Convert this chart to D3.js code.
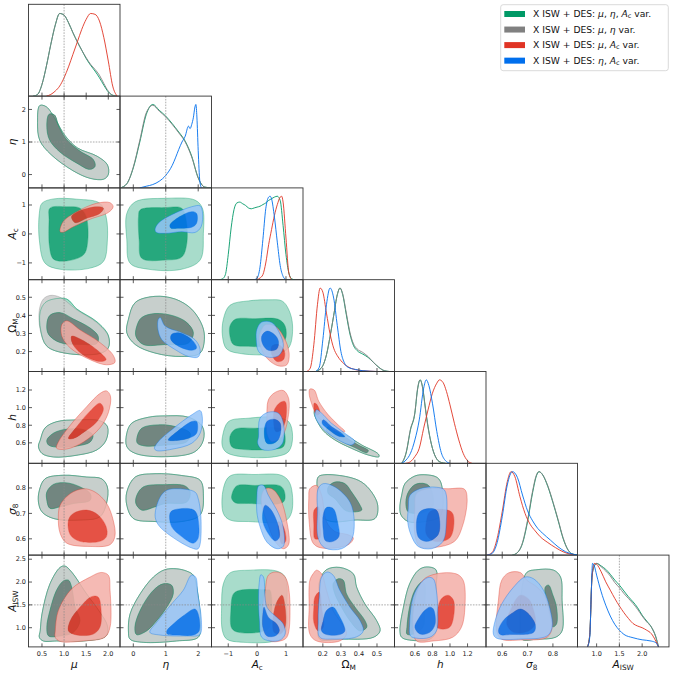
<!DOCTYPE html>
<html>
<head>
<meta charset="utf-8">
<script src="https://cdn.jsdelivr.net/npm/d3@7"></script>
<style>
  body { margin: 0; background: #fff; }
  svg { display: block; font-family: 'DejaVu Sans', sans-serif; }
</style>
</head>
<body>
<script>
// parameters, axis domains and ticks
const params = ['mu', 'eta', 'Ac', 'Om', 'h', 's8', 'A'];
const ranges = { mu: [0.195, 2.265], eta: [-0.41, 2.41], Ac: [-1.58, 1.59], Om: [0.09, 0.597], h: [0.368, 1.41], s8: [0.536, 0.897], A: [0.58, 2.59] };
const xticks = { mu: [0.5, 1, 1.5, 2], eta: [0, 1, 2], Ac: [-1, 0, 1], Om: [0.2, 0.3, 0.4, 0.5], h: [0.6, 0.8, 1.0, 1.2], s8: [0.6, 0.7, 0.8], A: [1, 1.5, 2] };
const yticks = { mu: [], eta: [0, 1, 2], Ac: [-1, 0, 1], Om: [0.2, 0.3, 0.4, 0.5], h: [0.6, 0.8, 1.0, 1.2], s8: [0.6, 0.7, 0.8], A: [1, 1.5, 2, 2.5] };
const tickDigits = { mu: 1, eta: 0, Ac: 0, Om: 1, h: 1, s8: 1, A: 1 };
// axis titles: [text, style] with style 0 roman, 1 italic, 2 subscript
const titles = {
  mu: [['μ', 1]], eta: [['η', 1]], Ac: [['A', 1], ['c', 2]], Om: [['Ω', 0], ['M', 2]],
  h: [['h', 1]], s8: [['σ', 1], ['8', 2]], A: [['A', 1], ['ISW', 2]]
};
const markers = { mu: 1, eta: 1, A: 1.5 };

const sets = ['green', 'gray', 'red', 'blue'];
const colors = { green: '#009966', gray: '#808080', red: '#E03424', blue: '#006FED' };
const legendLabels = [
  [['X ISW + DES: ', 0], ['μ', 1], [', ', 0], ['η', 1], [', ', 0], ['A', 1], ['c', 2], [' var.', 0]],
  [['X ISW + DES: ', 0], ['μ', 1], [', ', 0], ['η', 1], [' var.', 0]],
  [['X ISW + DES: ', 0], ['μ', 1], [', ', 0], ['A', 1], ['c', 2], [' var.', 0]],
  [['X ISW + DES: ', 0], ['η', 1], [', ', 0], ['A', 1], ['c', 2], [' var.', 0]]
];

// 1D marginals: [value, relative density]
const mu_1d = {
  green: [[0.3,0],[0.4,0.02],[0.5,0.14],[0.6,0.36],[0.7,0.62],[0.8,0.85],[0.9,0.99],[1.0,0.97],[1.1,0.88],[1.2,0.76],[1.3,0.65],[1.4,0.55],[1.5,0.45],[1.6,0.37],[1.7,0.3],[1.8,0.22],[1.9,0.13],[2.0,0.05],[2.1,0.01],[2.2,0]],
  gray: [[0.3,0],[0.4,0.02],[0.5,0.14],[0.6,0.36],[0.7,0.62],[0.8,0.85],[0.9,0.99],[1.0,0.97],[1.1,0.88],[1.2,0.76],[1.3,0.65],[1.4,0.55],[1.5,0.46],[1.6,0.38],[1.7,0.32],[1.8,0.25],[1.9,0.15],[2.0,0.06],[2.1,0.01],[2.2,0]],
  red: [[0.6,0],[0.7,0.02],[0.8,0.06],[0.9,0.12],[1.0,0.22],[1.1,0.35],[1.2,0.5],[1.3,0.65],[1.4,0.8],[1.5,0.92],[1.6,0.99],[1.7,0.98],[1.8,0.9],[1.9,0.7],[2.0,0.42],[2.1,0.12],[2.2,0]]
};
const eta_1d = {
  green: [[-0.4,0],[-0.2,0.05],[0,0.24],[0.2,0.55],[0.4,0.88],[0.6,1.0],[0.8,0.93],[1.0,0.86],[1.2,0.77],[1.4,0.67],[1.6,0.56],[1.8,0.38],[2.0,0.12],[2.2,0.01],[2.4,0]],
  gray: [[-0.4,0],[-0.2,0.05],[0,0.25],[0.2,0.57],[0.4,0.9],[0.6,0.99],[0.8,0.92],[1.0,0.85],[1.2,0.76],[1.4,0.66],[1.6,0.55],[1.8,0.37],[2.0,0.12],[2.2,0.01],[2.4,0]],
  blue: [[0.2,0],[0.4,0.02],[0.6,0.04],[0.8,0.08],[1.0,0.15],[1.2,0.27],[1.3,0.36],[1.4,0.46],[1.5,0.55],[1.6,0.62],[1.7,0.74],[1.75,0.71],[1.8,0.76],[1.85,0.84],[1.9,0.97],[1.93,1.0],[1.96,0.85],[2.0,0.45],[2.05,0.08],[2.1,0]]
};
const Ac_1d = {
  green: [[-1.3,0],[-1.2,0.01],[-1.1,0.06],[-1.0,0.3],[-0.9,0.62],[-0.8,0.84],[-0.7,0.92],[-0.6,0.93],[-0.5,0.91],[-0.4,0.89],[-0.3,0.86],[-0.2,0.85],[-0.1,0.86],[0.0,0.87],[0.1,0.88],[0.2,0.9],[0.3,0.92],[0.4,0.95],[0.5,0.97],[0.6,0.99],[0.7,1.0],[0.8,0.95],[0.9,0.65],[1.0,0.3],[1.1,0.08],[1.2,0.01],[1.3,0]],
  red: [[0.0,0],[0.1,0.02],[0.2,0.06],[0.3,0.2],[0.4,0.42],[0.5,0.6],[0.6,0.77],[0.7,0.9],[0.8,0.99],[0.85,1.0],[0.9,0.93],[1.0,0.5],[1.1,0.08],[1.2,0]],
  blue: [[-0.1,0],[0.0,0.02],[0.1,0.15],[0.2,0.48],[0.3,0.85],[0.4,0.99],[0.45,1.0],[0.5,0.97],[0.6,0.75],[0.7,0.45],[0.8,0.17],[0.9,0.04],[1.0,0]]
};
const Om_1d = {
  green: [[0.16,0],[0.18,0.02],[0.2,0.07],[0.22,0.2],[0.24,0.42],[0.26,0.67],[0.28,0.92],[0.295,1.0],[0.31,0.92],[0.33,0.68],[0.35,0.45],[0.37,0.31],[0.39,0.25],[0.42,0.21],[0.45,0.17],[0.48,0.11],[0.51,0.05],[0.54,0.01],[0.57,0]],
  gray: [[0.16,0],[0.18,0.02],[0.2,0.07],[0.22,0.2],[0.24,0.42],[0.26,0.67],[0.28,0.92],[0.295,1.0],[0.31,0.93],[0.33,0.7],[0.35,0.47],[0.37,0.33],[0.39,0.27],[0.42,0.23],[0.45,0.18],[0.48,0.11],[0.51,0.05],[0.54,0.01],[0.57,0]],
  red: [[0.11,0],[0.13,0.04],[0.15,0.32],[0.17,0.8],[0.185,1.0],[0.2,0.95],[0.22,0.7],[0.24,0.45],[0.26,0.28],[0.28,0.19],[0.3,0.13],[0.33,0.07],[0.36,0.035],[0.4,0.015],[0.45,0.005],[0.5,0]],
  blue: [[0.16,0],[0.18,0.05],[0.2,0.38],[0.22,0.8],[0.24,1.0],[0.26,0.88],[0.28,0.55],[0.3,0.24],[0.32,0.1],[0.34,0.05],[0.38,0.025],[0.42,0.01],[0.5,0]]
};
const h_1d = {
  green: [[0.45,0],[0.5,0.12],[0.55,0.4],[0.6,0.6],[0.63,0.88],[0.66,1.0],[0.69,0.9],[0.72,0.66],[0.75,0.44],[0.8,0.18],[0.85,0.05],[0.9,0.01],[0.95,0]],
  gray: [[0.45,0],[0.5,0.13],[0.55,0.41],[0.6,0.61],[0.63,0.89],[0.66,1.0],[0.69,0.89],[0.72,0.65],[0.75,0.43],[0.8,0.18],[0.85,0.05],[0.9,0.01],[0.95,0]],
  red: [[0.5,0],[0.55,0.02],[0.6,0.08],[0.65,0.18],[0.7,0.42],[0.75,0.64],[0.8,0.84],[0.85,0.96],[0.88,1.0],[0.92,0.97],[0.96,0.86],[1.0,0.7],[1.05,0.48],[1.1,0.28],[1.15,0.12],[1.2,0.03],[1.25,0]],
  blue: [[0.45,0],[0.5,0.04],[0.55,0.12],[0.6,0.28],[0.65,0.52],[0.7,0.9],[0.73,1.0],[0.76,0.93],[0.8,0.72],[0.85,0.38],[0.9,0.13],[0.95,0.03],[1.0,0]]
};
const s8_1d = {
  green: [[0.64,0],[0.66,0.03],[0.68,0.14],[0.7,0.4],[0.72,0.75],[0.735,0.95],[0.745,1.0],[0.76,0.96],[0.78,0.82],[0.8,0.63],[0.82,0.42],[0.84,0.2],[0.86,0.06],[0.88,0.01],[0.9,0]],
  gray: [[0.64,0],[0.66,0.03],[0.68,0.15],[0.7,0.42],[0.72,0.77],[0.735,0.96],[0.745,1.0],[0.76,0.96],[0.78,0.83],[0.8,0.64],[0.82,0.43],[0.84,0.21],[0.86,0.06],[0.88,0.01],[0.9,0]],
  red: [[0.54,0],[0.56,0.03],[0.58,0.2],[0.6,0.52],[0.62,0.88],[0.635,1.0],[0.65,0.94],[0.67,0.7],[0.69,0.5],[0.71,0.37],[0.73,0.29],[0.75,0.22],[0.78,0.15],[0.81,0.09],[0.84,0.04],[0.87,0.01],[0.89,0]],
  blue: [[0.54,0],[0.56,0.02],[0.58,0.15],[0.6,0.46],[0.62,0.84],[0.64,1.0],[0.66,0.93],[0.68,0.72],[0.7,0.53],[0.72,0.41],[0.74,0.32],[0.76,0.26],[0.79,0.18],[0.82,0.1],[0.85,0.04],[0.88,0.01],[0.9,0]]
};
const A_1d = {
  green: [[0.8,0],[0.85,0.15],[0.9,0.85],[0.95,0.97],[1.0,1.0],[1.1,0.97],[1.2,0.93],[1.3,0.87],[1.4,0.8],[1.5,0.74],[1.6,0.67],[1.7,0.6],[1.8,0.54],[1.9,0.47],[2.0,0.38],[2.1,0.31],[2.2,0.24],[2.3,0.12],[2.36,0]],
  gray: [[0.8,0],[0.85,0.15],[0.9,0.85],[0.95,0.97],[1.0,1.0],[1.1,0.96],[1.2,0.91],[1.3,0.85],[1.4,0.77],[1.5,0.71],[1.6,0.64],[1.7,0.58],[1.8,0.52],[1.9,0.45],[2.0,0.37],[2.1,0.3],[2.2,0.24],[2.3,0.12],[2.36,0]],
  red: [[0.8,0],[0.85,0.15],[0.9,0.85],[0.95,1.0],[1.0,0.99],[1.1,0.9],[1.2,0.78],[1.3,0.68],[1.4,0.58],[1.5,0.49],[1.6,0.41],[1.7,0.34],[1.8,0.28],[1.9,0.25],[2.0,0.23],[2.1,0.2],[2.2,0.16],[2.3,0.07],[2.36,0]],
  blue: [[0.8,0],[0.85,0.12],[0.88,0.6],[0.91,1.0],[0.95,0.97],[1.0,0.86],[1.1,0.66],[1.2,0.5],[1.3,0.37],[1.4,0.27],[1.5,0.2],[1.6,0.15],[1.8,0.11],[2.0,0.085],[2.2,0.07],[2.3,0.05],[2.36,0]]
};
const marginals = { mu: mu_1d, eta: eta_1d, Ac: Ac_1d, Om: Om_1d, h: h_1d, s8: s8_1d, A: A_1d };

// 2D contours: [95% contour, 68% contour], points are [column value, row value]
const eta_mu = {
  gray: [[[0.45,2.12],[0.6,2.08],[0.8,1.7],[1.02,1.2],[1.3,0.82],[1.75,0.56],[1.98,0.3],[2.0,0.0],[1.9,-0.14],[1.6,-0.12],[1.2,0.12],[0.7,0.62],[0.45,1.05],[0.4,1.6]],
         [[0.66,1.85],[0.78,1.83],[0.88,1.48],[1.06,1.07],[1.36,0.72],[1.66,0.46],[1.7,0.25],[1.58,0.16],[1.29,0.35],[0.9,0.7],[0.67,1.07],[0.61,1.5]]]
};
const Ac_mu = {
  green: [[[0.5,1.06],[0.76,1.21],[1.29,1.2],[1.81,1.06],[1.95,0.6],[1.98,-0.21],[1.89,-0.95],[1.59,-1.18],[0.91,-1.22],[0.57,-1.01],[0.44,-0.21],[0.44,0.71]],
          [[0.68,0.89],[1.06,0.94],[1.36,0.89],[1.5,0.6],[1.53,-0.32],[1.44,-0.72],[1.06,-0.93],[0.76,-0.87],[0.67,-0.44],[0.66,0.48]]],
  red: [[[0.91,0.08],[0.98,0.43],[1.29,0.77],[1.74,1.06],[2.04,1.08],[2.11,0.94],[2.0,0.74],[1.59,0.51],[1.21,0.25],[0.98,0.06]],
        [[1.17,0.6],[1.36,0.8],[1.74,0.94],[1.89,0.89],[1.81,0.71],[1.51,0.54],[1.25,0.39]]]
};
const Ac_eta = {
  green: [[[-0.2,0.71],[0.06,1.11],[0.98,1.23],[1.9,1.17],[2.13,0.89],[2.16,0.02],[2.06,-0.9],[1.49,-1.22],[0.47,-1.22],[-0.1,-1.01],[-0.2,-0.21]],
          [[0.21,0.83],[0.98,0.91],[1.49,0.89],[1.62,0.54],[1.65,-0.32],[1.49,-0.8],[0.98,-0.9],[0.26,-0.84],[0.18,-0.21],[0.16,0.6]]],
  blue: [[[0.67,0.14],[0.77,0.37],[1.18,0.66],[1.8,0.94],[2.06,0.97],[2.13,0.77],[2.09,0.25],[1.9,0.05],[1.49,0.08],[0.98,0.02],[0.72,0.05]],
         [[1.13,0.31],[1.39,0.57],[1.8,0.77],[1.95,0.71],[1.95,0.37],[1.8,0.23],[1.39,0.2],[1.16,0.2]]]
};
const Om_mu = {
  green: [[[0.57,0.47],[0.76,0.49],[1.06,0.49],[1.29,0.435],[1.74,0.365],[2.0,0.29],[2.0,0.22],[1.81,0.19],[1.06,0.19],[0.61,0.23],[0.47,0.32],[0.46,0.42]],
          [[0.68,0.4],[0.91,0.415],[1.21,0.38],[1.59,0.33],[1.77,0.285],[1.74,0.245],[1.36,0.24],[0.91,0.25],[0.65,0.295],[0.61,0.35]]],
  gray: [[[0.53,0.49],[0.68,0.51],[0.91,0.5],[1.29,0.43],[1.74,0.36],[2.0,0.285],[2.0,0.22],[1.81,0.19],[1.06,0.19],[0.61,0.23],[0.46,0.32],[0.44,0.43]],
         [[0.68,0.4],[0.91,0.415],[1.21,0.38],[1.59,0.33],[1.77,0.285],[1.74,0.245],[1.36,0.24],[0.91,0.25],[0.65,0.295],[0.61,0.35]]],
  red: [[[0.95,0.35],[1.06,0.37],[1.36,0.32],[1.81,0.25],[2.11,0.18],[2.15,0.14],[1.96,0.127],[1.59,0.155],[1.14,0.22],[0.95,0.285]],
        [[1.17,0.285],[1.36,0.27],[1.74,0.21],[1.95,0.155],[1.81,0.145],[1.44,0.18],[1.2,0.24]]]
};
const Om_eta = {
  gray: [[[-0.15,0.378],[0.06,0.471],[0.67,0.505],[1.29,0.49],[1.8,0.434],[2.13,0.341],[2.19,0.266],[2.06,0.192],[1.49,0.173],[0.67,0.192],[0.06,0.239],[-0.2,0.304]],
         [[0.11,0.341],[0.26,0.388],[0.67,0.41],[1.24,0.397],[1.65,0.36],[1.85,0.304],[1.7,0.248],[0.98,0.239],[0.31,0.239],[0.08,0.285]]],
  blue: [[[0.77,0.378],[0.83,0.388],[0.98,0.341],[1.49,0.304],[1.9,0.266],[2.06,0.211],[2.0,0.17],[1.7,0.173],[1.29,0.211],[0.88,0.266],[0.76,0.322]],
         [[1.18,0.294],[1.39,0.304],[1.8,0.266],[1.95,0.22],[1.8,0.207],[1.39,0.23],[1.16,0.266]]]
};
const Om_Ac = {
  green: [[[-1.17,0.378],[-0.94,0.456],[-0.3,0.48],[0.39,0.486],[0.86,0.48],[1.09,0.434],[1.23,0.341],[1.09,0.22],[0.62,0.188],[-0.53,0.188],[-1.05,0.214],[-1.2,0.285]],
          [[-0.94,0.341],[-0.76,0.378],[-0.07,0.382],[0.74,0.378],[0.97,0.341],[0.97,0.266],[0.62,0.233],[-0.3,0.229],[-0.82,0.239],[-0.94,0.285]]],
  red: [[[0.16,0.322],[0.28,0.347],[0.62,0.341],[0.91,0.285],[1.11,0.192],[1.03,0.127],[0.74,0.121],[0.39,0.155],[0.16,0.211],[0.07,0.276]],
        [[0.51,0.229],[0.74,0.239],[0.95,0.201],[0.91,0.155],[0.69,0.145],[0.51,0.183]]],
  blue: [[[-0.01,0.322],[0.16,0.363],[0.51,0.36],[0.8,0.294],[0.91,0.229],[0.74,0.177],[0.34,0.17],[0.05,0.201],[-0.03,0.266]],
         [[0.16,0.285],[0.34,0.313],[0.6,0.294],[0.74,0.257],[0.68,0.214],[0.39,0.207],[0.2,0.239]]]
};
const h_mu = {
  gray: [[[0.46,0.63],[0.57,0.77],[0.83,0.84],[1.29,0.86],[1.81,0.85],[1.98,0.785],[1.95,0.63],[1.74,0.52],[1.29,0.46],[0.76,0.44],[0.5,0.48],[0.42,0.56]],
         [[0.61,0.63],[0.76,0.71],[1.06,0.755],[1.44,0.75],[1.65,0.69],[1.59,0.61],[1.29,0.565],[0.91,0.55],[0.65,0.575]]],
  red: [[[0.83,0.54],[0.87,0.61],[1.14,0.8],[1.51,1.01],[1.81,1.16],[1.96,1.19],[2.05,1.13],[2.0,0.94],[1.81,0.77],[1.44,0.61],[1.06,0.53]],
        [[1.1,0.65],[1.29,0.785],[1.55,0.94],[1.81,1.05],[1.89,0.99],[1.74,0.84],[1.47,0.73],[1.21,0.65]]]
};
const h_eta = {
  gray: [[[-0.2,0.709],[-0.05,0.823],[0.47,0.891],[0.98,0.906],[1.7,0.891],[2.13,0.785],[2.16,0.633],[1.9,0.5],[0.98,0.443],[0.06,0.481],[-0.2,0.557]],
         [[0.11,0.652],[0.26,0.766],[0.77,0.804],[1.29,0.785],[1.75,0.709],[1.65,0.614],[0.98,0.576],[0.36,0.565],[0.13,0.595]]],
  blue: [[[0.65,0.538],[0.77,0.614],[1.24,0.766],[1.8,0.918],[2.06,0.967],[2.13,0.88],[2.06,0.709],[1.8,0.595],[1.18,0.527],[0.72,0.512]],
         [[1.08,0.633],[1.39,0.739],[1.8,0.842],[1.95,0.842],[1.95,0.709],[1.7,0.652],[1.24,0.625]]]
};
const h_Ac = {
  green: [[[-1.2,0.671],[-0.99,0.842],[-0.3,0.88],[0.62,0.891],[1.09,0.842],[1.23,0.671],[1.09,0.5],[0.62,0.443],[-0.53,0.443],[-1.05,0.489],[-1.2,0.557]],
          [[-0.94,0.671],[-0.76,0.754],[-0.07,0.766],[0.86,0.754],[0.97,0.671],[0.91,0.557],[0.51,0.527],[-0.53,0.527],[-0.88,0.557]]],
  red: [[[0.34,0.861],[0.39,1.088],[0.62,1.172],[0.91,1.194],[1.09,1.107],[1.06,0.861],[0.86,0.671],[0.51,0.614],[0.34,0.709]],
        [[0.57,0.861],[0.6,0.975],[0.8,1.058],[0.97,1.069],[0.99,0.861],[0.83,0.747],[0.65,0.728]]],
  blue: [[[0.05,0.671],[0.1,0.88],[0.39,0.948],[0.74,0.937],[0.91,0.823],[0.88,0.595],[0.62,0.527],[0.16,0.527],[0.02,0.595]],
         [[0.25,0.709],[0.34,0.842],[0.6,0.868],[0.8,0.823],[0.76,0.652],[0.57,0.595],[0.34,0.595]]]
};
const h_Om = {
  gray: [[[0.156,0.975],[0.202,0.89],[0.267,0.766],[0.341,0.671],[0.415,0.576],[0.507,0.474],[0.511,0.443],[0.452,0.462],[0.359,0.538],[0.267,0.633],[0.202,0.739],[0.165,0.861],[0.152,0.937]],
         [[0.23,0.785],[0.304,0.69],[0.396,0.576],[0.452,0.512],[0.443,0.489],[0.378,0.546],[0.285,0.64],[0.22,0.739]]],
  red: [[[0.128,1.21],[0.152,1.2],[0.178,1.07],[0.23,0.918],[0.285,0.804],[0.322,0.728],[0.276,0.728],[0.211,0.823],[0.165,0.918],[0.137,1.05],[0.124,1.16]],
        [[0.152,1.05],[0.165,1.04],[0.183,0.937],[0.165,0.918],[0.152,0.975]]],
  blue: [[[0.165,0.975],[0.193,0.937],[0.248,0.823],[0.322,0.709],[0.378,0.614],[0.359,0.576],[0.285,0.633],[0.211,0.739],[0.17,0.842],[0.156,0.918]],
         [[0.202,0.861],[0.248,0.785],[0.304,0.709],[0.322,0.671],[0.285,0.678],[0.23,0.754],[0.196,0.823]]]
};
const s8_mu = {
  gray: [[[0.44,0.79],[0.57,0.836],[0.98,0.85],[1.51,0.843],[1.85,0.836],[1.98,0.804],[1.96,0.74],[1.81,0.687],[1.36,0.674],[0.76,0.68],[0.5,0.706],[0.42,0.745]],
         [[0.61,0.784],[0.76,0.814],[1.06,0.82],[1.36,0.804],[1.59,0.778],[1.59,0.752],[1.21,0.739],[0.91,0.726],[0.68,0.72],[0.61,0.752]]],
  red: [[[0.87,0.687],[0.91,0.732],[1.14,0.778],[1.44,0.797],[1.7,0.784],[1.96,0.74],[2.11,0.674],[2.15,0.61],[2.04,0.577],[1.59,0.57],[1.06,0.583],[0.91,0.622]],
        [[1.1,0.674],[1.21,0.7],[1.51,0.713],[1.77,0.694],[1.95,0.648],[1.96,0.609],[1.81,0.59],[1.36,0.59],[1.14,0.616]]]
};
const s8_eta = {
  gray: [[[-0.2,0.784],[0.06,0.843],[0.67,0.856],[1.49,0.849],[2.06,0.83],[2.16,0.771],[2.06,0.694],[1.49,0.668],[0.67,0.668],[0.0,0.68],[-0.2,0.732]],
         [[0.11,0.771],[0.31,0.804],[0.98,0.813],[1.59,0.808],[1.75,0.784],[1.65,0.745],[0.98,0.739],[0.67,0.726],[0.26,0.713],[0.08,0.739]]],
  blue: [[[0.67,0.694],[0.83,0.765],[1.03,0.791],[1.39,0.797],[1.9,0.784],[2.0,0.758],[2.09,0.668],[2.0,0.561],[1.8,0.564],[1.18,0.609],[0.77,0.655]],
         [[1.13,0.7],[1.24,0.713],[1.8,0.717],[1.95,0.7],[2.0,0.603],[1.85,0.583],[1.49,0.609],[1.18,0.648]]]
};
const s8_Ac = {
  green: [[[-1.17,0.797],[-0.94,0.847],[-0.07,0.853],[0.86,0.849],[1.14,0.817],[1.2,0.706],[0.97,0.67],[-0.3,0.668],[-0.94,0.674],[-1.17,0.7]],
          [[-0.88,0.771],[-0.71,0.808],[-0.07,0.81],[0.8,0.808],[0.95,0.784],[0.91,0.745],[-0.3,0.739],[-0.76,0.742],[-0.88,0.758]]],
  red: [[[0.16,0.771],[0.28,0.797],[0.51,0.797],[0.8,0.758],[1.03,0.668],[1.09,0.577],[0.91,0.561],[0.62,0.59],[0.34,0.668],[0.16,0.732]],
        [[0.74,0.668],[0.91,0.648],[0.99,0.59],[0.86,0.58],[0.76,0.616]]],
  blue: [[[-0.01,0.758],[0.05,0.808],[0.22,0.81],[0.39,0.771],[0.74,0.7],[0.91,0.642],[0.91,0.571],[0.69,0.561],[0.34,0.587],[0.1,0.648],[-0.01,0.706]],
         [[0.2,0.706],[0.28,0.732],[0.49,0.713],[0.74,0.648],[0.76,0.603],[0.62,0.592],[0.34,0.629],[0.2,0.668]]]
};
const s8_Om = {
  gray: [[[0.174,0.843],[0.211,0.852],[0.341,0.843],[0.415,0.823],[0.47,0.784],[0.504,0.732],[0.489,0.68],[0.378,0.674],[0.248,0.668],[0.183,0.694],[0.17,0.784]],
         [[0.23,0.804],[0.267,0.823],[0.322,0.817],[0.359,0.784],[0.406,0.732],[0.415,0.713],[0.359,0.706],[0.322,0.713],[0.267,0.758],[0.23,0.778]]],
  red: [[[0.128,0.797],[0.165,0.81],[0.193,0.771],[0.22,0.668],[0.267,0.629],[0.341,0.616],[0.369,0.603],[0.341,0.577],[0.193,0.564],[0.146,0.583],[0.124,0.668],[0.122,0.758]],
        [[0.152,0.713],[0.174,0.726],[0.183,0.668],[0.183,0.603],[0.156,0.6],[0.15,0.655]]],
  blue: [[[0.174,0.797],[0.202,0.817],[0.267,0.804],[0.35,0.745],[0.374,0.668],[0.359,0.596],[0.304,0.561],[0.211,0.564],[0.174,0.603],[0.17,0.706]],
         [[0.202,0.694],[0.22,0.723],[0.257,0.719],[0.281,0.668],[0.289,0.609],[0.257,0.59],[0.215,0.592],[0.202,0.635]]]
};
const s8_h = {
  gray: [[[0.45,0.771],[0.487,0.817],[0.6,0.847],[0.713,0.852],[0.845,0.843],[0.894,0.823],[0.92,0.732],[0.883,0.687],[0.713,0.668],[0.525,0.668],[0.442,0.694],[0.43,0.732]],
         [[0.499,0.732],[0.518,0.778],[0.6,0.813],[0.713,0.817],[0.77,0.804],[0.808,0.732],[0.732,0.709],[0.619,0.7],[0.525,0.706]]],
  red: [[[0.619,0.778],[0.751,0.797],[0.977,0.797],[1.165,0.795],[1.195,0.758],[1.147,0.655],[1.052,0.59],[0.826,0.566],[0.657,0.57],[0.6,0.616],[0.6,0.719]],
        [[0.77,0.706],[0.902,0.716],[1.022,0.704],[1.045,0.661],[0.996,0.603],[0.826,0.59],[0.732,0.616],[0.732,0.668]]],
  blue: [[[0.525,0.719],[0.544,0.771],[0.657,0.797],[0.845,0.803],[0.939,0.791],[0.958,0.668],[0.92,0.59],[0.789,0.561],[0.638,0.57],[0.555,0.616],[0.518,0.668]],
         [[0.619,0.668],[0.657,0.706],[0.751,0.719],[0.845,0.713],[0.883,0.668],[0.864,0.616],[0.751,0.59],[0.646,0.603]]]
};
const A_mu = {
  gray: [[[0.46,0.93],[0.5,1.3],[0.68,1.96],[0.91,2.32],[1.02,2.35],[1.17,2.22],[1.51,1.74],[1.81,1.34],[1.98,1.04],[1.95,0.82],[1.44,0.71],[0.83,0.71],[0.53,0.71],[0.44,0.79]],
         [[0.61,1.01],[0.68,1.375],[0.83,1.82],[0.98,2.02],[1.1,2.04],[1.17,1.89],[1.25,1.45],[1.36,1.155],[1.21,0.9],[0.91,0.82],[0.65,0.82]]],
  red: [[[0.8,0.93],[0.87,1.375],[1.17,1.85],[1.59,2.11],[1.84,2.21],[2.0,2.15],[2.04,1.82],[2.04,1.01],[1.92,0.79],[1.44,0.71],[0.91,0.7],[0.8,0.79]],
        [[1.1,0.93],[1.14,1.155],[1.36,1.45],[1.62,1.68],[1.77,1.67],[1.84,1.34],[1.81,1.01],[1.66,0.86],[1.29,0.84]]]
};
const A_eta = {
  gray: [[[-0.15,0.93],[-0.1,1.3],[0.21,1.74],[0.62,2.11],[0.97,2.27],[1.33,2.29],[1.64,2.24],[1.85,2.15],[1.97,1.82],[2.07,1.08],[2.0,0.79],[1.33,0.71],[0.31,0.68],[-0.1,0.75]],
         [[0.05,1.01],[0.21,1.375],[0.62,1.82],[0.92,1.96],[1.18,1.93],[1.23,1.74],[1.03,1.45],[0.72,1.155],[0.41,0.93],[0.1,0.85]]],
  blue: [[[0.51,0.9],[0.72,1.12],[1.18,1.52],[1.54,1.82],[1.79,2.15],[1.92,2.11],[1.99,1.74],[2.1,1.15],[2.05,0.85],[1.64,0.82],[0.82,0.84]],
         [[1.03,0.93],[1.23,1.08],[1.54,1.26],[1.9,1.41],[2.0,1.3],[2.03,0.93],[1.85,0.84],[1.33,0.84],[1.05,0.86]]]
};
const A_Ac = {
  green: [[[-1.17,1.96],[-0.94,2.2],[-0.24,2.26],[0.68,2.24],[0.97,2.11],[1.03,1.45],[0.97,0.86],[0.62,0.71],[-0.47,0.68],[-1.05,0.75],[-1.2,0.93],[-1.23,1.45]],
          [[-0.91,1.375],[-0.82,1.74],[-0.59,1.82],[0.34,1.83],[0.45,1.82],[0.43,1.01],[0.22,0.92],[-0.65,0.9],[-0.88,0.99]]],
  red: [[[0.28,1.82],[0.39,2.15],[0.62,2.22],[0.86,2.18],[1.03,2.04],[1.14,1.45],[1.03,0.79],[0.8,0.71],[0.45,0.71],[0.22,0.93],[0.2,1.45]],
        [[0.57,1.3],[0.68,1.56],[0.86,1.71],[0.97,1.45],[0.97,1.01],[0.8,0.86],[0.59,0.9],[0.54,1.12]]],
  blue: [[[0.07,1.96],[0.13,2.16],[0.22,2.11],[0.34,1.45],[0.68,1.23],[0.91,1.08],[0.97,0.86],[0.8,0.73],[0.45,0.71],[0.16,0.79],[0.08,1.155],[0.05,1.6]],
         [[0.2,1.3],[0.24,1.45],[0.39,1.23],[0.68,1.08],[0.77,0.93],[0.62,0.82],[0.34,0.82],[0.2,1.01]]]
};
const A_Om = {
  gray: [[[0.183,2.04],[0.22,2.27],[0.294,2.32],[0.369,2.18],[0.387,1.89],[0.433,1.52],[0.498,1.155],[0.517,0.93],[0.48,0.79],[0.294,0.75],[0.183,0.75],[0.174,1.08],[0.18,1.67]],
         [[0.257,1.96],[0.285,2.07],[0.313,2.04],[0.331,1.74],[0.378,1.45],[0.433,1.155],[0.443,1.01],[0.406,0.93],[0.35,1.155],[0.294,1.52],[0.267,1.74]]],
  red: [[[0.146,2.18],[0.165,2.26],[0.193,2.18],[0.22,1.82],[0.257,1.375],[0.313,1.04],[0.331,0.86],[0.294,0.71],[0.165,0.71],[0.128,0.86],[0.124,1.45],[0.128,2.04]],
        [[0.156,1.67],[0.18,1.78],[0.193,1.45],[0.202,1.01],[0.174,0.93],[0.15,1.12],[0.15,1.45]]],
  blue: [[[0.193,2.11],[0.224,2.22],[0.257,2.15],[0.294,1.82],[0.35,1.45],[0.406,1.155],[0.424,0.93],[0.387,0.8],[0.257,0.75],[0.183,0.79],[0.174,1.155],[0.18,1.67]],
         [[0.202,1.155],[0.22,1.375],[0.257,1.45],[0.285,1.3],[0.322,0.93],[0.294,0.85],[0.22,0.85],[0.193,0.93]]]
};
const A_h = {
  gray: [[[0.43,0.93],[0.47,1.45],[0.54,1.96],[0.64,2.26],[0.73,2.33],[0.84,2.27],[0.845,1.96],[0.845,1.45],[0.845,0.93],[0.77,0.75],[0.54,0.73],[0.45,0.79]],
         [[0.51,1.01],[0.54,1.45],[0.6,1.82],[0.68,2.0],[0.71,1.96],[0.71,1.45],[0.69,1.01],[0.58,0.86],[0.51,0.86]]],
  red: [[[0.69,2.04],[0.845,2.18],[1.07,2.18],[1.15,2.04],[1.17,1.45],[1.13,1.01],[1.03,0.79],[0.81,0.71],[0.62,0.71],[0.58,1.01],[0.6,1.6]],
        [[0.845,1.23],[0.9,1.63],[0.98,1.71],[1.04,1.6],[1.04,1.23],[0.996,1.01],[0.9,0.97],[0.845,1.02]]],
  blue: [[[0.54,1.08],[0.58,1.67],[0.66,1.96],[0.75,2.1],[0.81,2.07],[0.845,1.82],[0.86,1.375],[0.845,0.93],[0.77,0.79],[0.62,0.77],[0.55,0.82]],
         [[0.6,1.01],[0.64,1.19],[0.71,1.375],[0.77,1.45],[0.81,1.41],[0.83,1.08],[0.77,0.9],[0.66,0.86]]]
};
const A_s8 = {
  gray: [[[0.671,1.08],[0.677,1.82],[0.697,2.21],[0.737,2.27],[0.803,2.26],[0.83,2.11],[0.836,1.6],[0.836,0.93],[0.81,0.79],[0.737,0.75],[0.677,0.75]],
         [[0.77,1.89],[0.783,1.93],[0.8,1.71],[0.814,1.45],[0.814,1.08],[0.8,1.02],[0.79,1.23],[0.777,1.52]]],
  red: [[[0.578,0.93],[0.585,1.6],[0.598,2.04],[0.625,2.2],[0.671,2.21],[0.697,2.04],[0.737,1.89],[0.77,1.67],[0.79,1.3],[0.797,1.01],[0.777,0.79],[0.671,0.73],[0.598,0.75]],
        [[0.618,1.08],[0.638,1.45],[0.671,1.71],[0.704,1.63],[0.724,1.375],[0.73,1.08],[0.704,0.93],[0.645,0.9]]],
  blue: [[[0.565,0.86],[0.572,1.155],[0.598,1.52],[0.645,1.89],[0.69,2.11],[0.724,2.07],[0.763,1.82],[0.79,1.375],[0.797,1.01],[0.777,0.82],[0.671,0.75],[0.578,0.77]],
         [[0.585,0.93],[0.604,1.155],[0.645,1.34],[0.671,1.41],[0.697,1.34],[0.73,1.08],[0.724,0.9],[0.632,0.85],[0.592,0.85]]]
};

// [row parameter, column parameter, contours]
const panels = [
  ['eta', 'mu', eta_mu],
  ['Ac', 'mu', Ac_mu], ['Ac', 'eta', Ac_eta],
  ['Om', 'mu', Om_mu], ['Om', 'eta', Om_eta], ['Om', 'Ac', Om_Ac],
  ['h', 'mu', h_mu], ['h', 'eta', h_eta], ['h', 'Ac', h_Ac], ['h', 'Om', h_Om],
  ['s8', 'mu', s8_mu], ['s8', 'eta', s8_eta], ['s8', 'Ac', s8_Ac], ['s8', 'Om', s8_Om], ['s8', 'h', s8_h],
  ['A', 'mu', A_mu], ['A', 'eta', A_eta], ['A', 'Ac', A_Ac], ['A', 'Om', A_Om], ['A', 'h', A_h], ['A', 's8', A_s8]
];
// the all-varied run (green) lies on top of the gray one wherever A_c is not involved
panels.forEach(([, , c]) => { if (!c.green && c.gray) c.green = c.gray; });

// layout
const W = 674, H = 675;
const padL = 28.5, padT = 4.3, cw = 91.5, ch = 91.8;
const svg = d3.select('body').append('svg').attr('width', W).attr('height', H);
const defs = svg.append('defs');

const X = {}, Y = {};
params.forEach((p, i) => {
  X[p] = d3.scaleLinear().domain(ranges[p]).range([padL + i * cw, padL + (i + 1) * cw]);
  Y[p] = d3.scaleLinear().domain(ranges[p]).range([padT + (i + 1) * ch, padT + i * ch]);
});

const pale = s => d3.interpolateRgb(colors[s], '#ffffff')(0.6);
const fmt = (p, v) => d3.format(`.${tickDigits[p]}f`)(v).replace('-', '−');

function clipFor(id, i, j) {
  defs.append('clipPath').attr('id', id)
    .append('rect').attr('x', padL + j * cw).attr('y', padT + i * ch).attr('width', cw).attr('height', ch);
  return `url(#${id})`;
}

function frame(i, j) {
  svg.append('rect').attr('x', padL + j * cw).attr('y', padT + i * ch).attr('width', cw).attr('height', ch)
    .attr('fill', 'none').attr('stroke', '#333').attr('stroke-width', 0.9);
}

function ticksX(p, i, both) {
  const g = svg.append('g').attr('stroke', '#333').attr('stroke-width', 0.8);
  const y0 = padT + i * ch, y1 = padT + (i + 1) * ch;
  xticks[p].forEach(v => {
    const x = X[p](v);
    g.append('line').attr('x1', x).attr('x2', x).attr('y1', y1).attr('y2', y1 - 3.5);
    if (both) g.append('line').attr('x1', x).attr('x2', x).attr('y1', y0).attr('y2', y0 + 3.5);
  });
}

function ticksY(p, j) {
  const g = svg.append('g').attr('stroke', '#333').attr('stroke-width', 0.8);
  const x0 = padL + j * cw, x1 = padL + (j + 1) * cw;
  yticks[p].forEach(v => {
    const y = Y[p](v);
    g.append('line').attr('x1', x0).attr('x2', x0 + 3.5).attr('y1', y).attr('y2', y);
    g.append('line').attr('x1', x1).attr('x2', x1 - 3.5).attr('y1', y).attr('y2', y);
  });
}

// 2D panels
panels.forEach(([rp, cp, cont]) => {
  const i = params.indexOf(rp), j = params.indexOf(cp);
  const g = svg.append('g').attr('clip-path', clipFor(`c${i}${j}`, i, j));
  const ring = d3.line().curve(d3.curveCatmullRomClosed.alpha(0.5))
    .x(d => X[cp](d[0])).y(d => Y[rp](d[1]));
  const stroke = s => {
    cont[s].forEach(c => g.append('path').attr('d', ring(c)).attr('fill', 'none')
      .attr('stroke', colors[s]).attr('stroke-width', 0.6).attr('stroke-opacity', 0.6));
  };
  sets.forEach(s => {
    const c = cont[s];
    if (!c) return;
    g.append('path').attr('d', ring(c[0]) + ring(c[1])).attr('fill-rule', 'evenodd')
      .attr('fill', pale(s)).attr('fill-opacity', 0.85);
    g.append('path').attr('d', ring(c[1])).attr('fill', colors[s]).attr('fill-opacity', 0.85);
    stroke(s);
    if (s === 'gray' && cont.green) stroke('green');
  });
  // reference values
  const mg = g.append('g').attr('stroke', '#888').attr('stroke-width', 0.7).attr('stroke-dasharray', '1.6,1.2');
  if (markers[cp] !== undefined)
    mg.append('line').attr('x1', X[cp](markers[cp])).attr('x2', X[cp](markers[cp])).attr('y1', padT + i * ch).attr('y2', padT + (i + 1) * ch);
  if (markers[rp] !== undefined)
    mg.append('line').attr('y1', Y[rp](markers[rp])).attr('y2', Y[rp](markers[rp])).attr('x1', padL + j * cw).attr('x2', padL + (j + 1) * cw);
  frame(i, j);
  ticksX(cp, i, true);
  ticksY(rp, j);
});

// 1D panels
params.forEach((p, i) => {
  const g = svg.append('g').attr('clip-path', clipFor(`d${i}`, i, i));
  const yd = d3.scaleLinear().domain([0, 1.1]).range([padT + (i + 1) * ch, padT + i * ch]);
  const line = d3.line().curve(d3.curveMonotoneX).x(d => X[p](d[0])).y(d => yd(d[1]));
  sets.forEach(s => {
    const m = marginals[p][s];
    if (!m) return;
    g.append('path').attr('d', line(m)).attr('fill', 'none').attr('stroke', colors[s]).attr('stroke-width', 0.9);
  });
  if (markers[p] !== undefined)
    g.append('line').attr('x1', X[p](markers[p])).attr('x2', X[p](markers[p]))
      .attr('y1', padT + i * ch).attr('y2', padT + (i + 1) * ch)
      .attr('stroke', '#888').attr('stroke-width', 0.7).attr('stroke-dasharray', '1.6,1.2');
  frame(i, i);
  ticksX(p, i, false);
});

// tick labels
const gridBottom = padT + params.length * ch;
params.forEach(p => {
  xticks[p].forEach(v => svg.append('text').attr('x', X[p](v)).attr('y', gridBottom + 9)
    .attr('text-anchor', 'middle').attr('font-size', 6.5).attr('fill', '#222').text(fmt(p, v)));
  yticks[p].forEach(v => svg.append('text').attr('x', padL - 2.5).attr('y', Y[p](v)).attr('dy', '0.35em')
    .attr('text-anchor', 'end').attr('font-size', 6.5).attr('fill', '#222').text(fmt(p, v)));
});

// rich text helper
function rich(t, parts, size) {
  parts.forEach(([s, st]) => {
    const ts = t.append('tspan').text(s);
    if (st === 1) ts.attr('font-style', 'italic');
    if (st === 2) ts.attr('font-size', size * 0.7).attr('baseline-shift', '-22%');
  });
}

// axis titles
params.forEach((p, i) => {
  const tx = svg.append('text').attr('x', padL + (i + 0.5) * cw).attr('y', 668)
    .attr('text-anchor', 'middle').attr('font-size', 10.5).attr('fill', '#111');
  rich(tx, titles[p], 10.5);
  if (i === 0) return;
  const cy = padT + (i + 0.5) * ch;
  const ty = svg.append('text').attr('transform', `translate(15.5,${cy}) rotate(-90)`)
    .attr('text-anchor', 'middle').attr('font-size', 10.5).attr('fill', '#111');
  rich(ty, titles[p], 10.5);
});

// legend
const lg = svg.append('g');
lg.append('rect').attr('x', 500.7).attr('y', 4.7).attr('width', 167.6).attr('height', 66)
  .attr('rx', 2.5).attr('fill', '#fff').attr('stroke', '#d0d0d0').attr('stroke-width', 0.8);
sets.forEach((s, k) => {
  const y = 14 + k * 15.55;
  lg.append('rect').attr('x', 504.3).attr('y', y - 3).attr('width', 20.7).attr('height', 6).attr('fill', colors[s]);
  const t = lg.append('text').attr('x', 533).attr('y', y + 3.3).attr('font-size', 9.2).attr('fill', '#111');
  rich(t, legendLabels[k], 9.2);
});
</script>
</body>
</html>
